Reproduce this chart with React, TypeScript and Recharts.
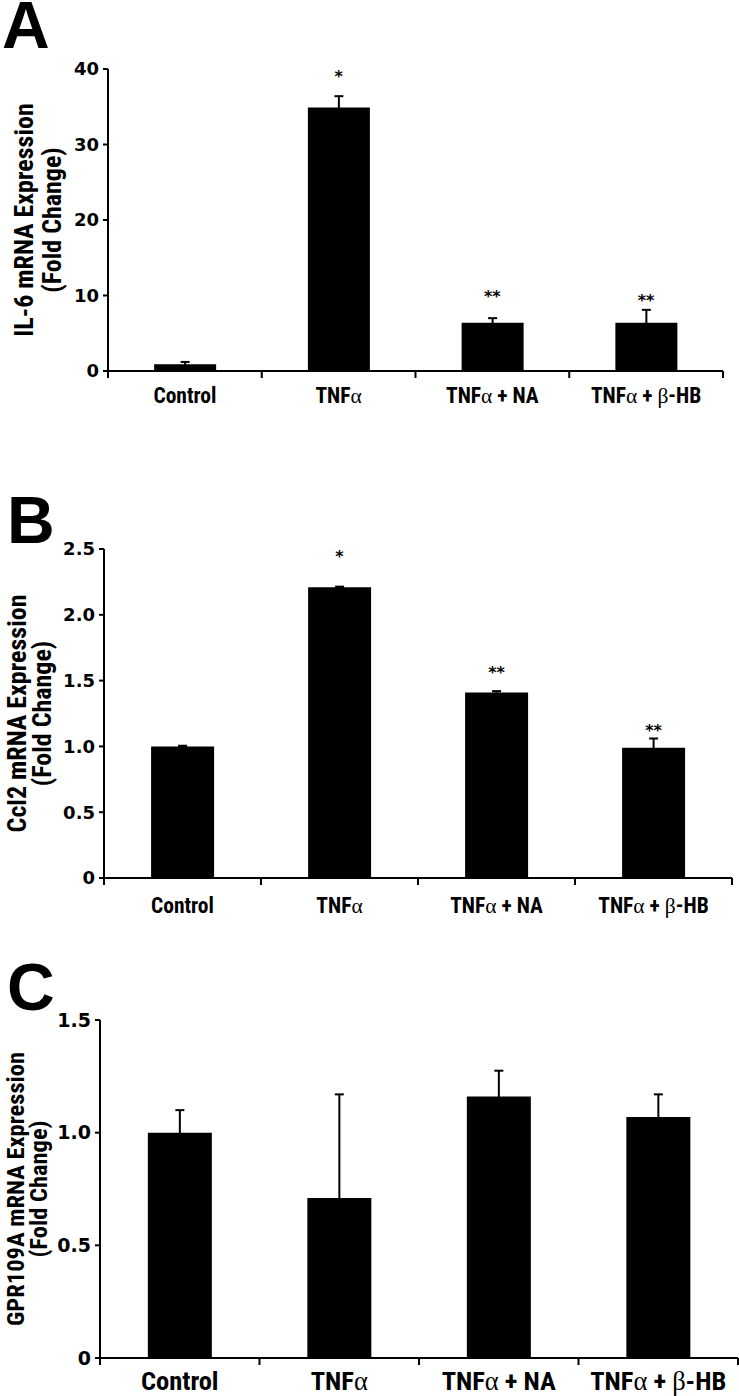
import { Bar, ComposedChart, ErrorBar, LabelList, Line, XAxis, YAxis } from "recharts"

const categories = ["Control", "TNFα", "TNFα + NA", "TNFα + β-HB"]

// A: IL-6
const il6Values = [0.9, 34.9, 6.4, 6.4]
const il6Errors = [0.3, 1.5, 0.6, 1.7]
const il6Stars = ["", "*", "**", "**"]
const il6StarLevels = [null, 39.3, 10.2, 9.7]
const il6Ticks = [0, 10, 20, 30, 40]
const il6TickLabels = ["0", "10", "20", "30", "40"]

// B: Ccl2
const ccl2Values = [1.0, 2.21, 1.41, 0.99]
const ccl2Errors = [0.005, 0.004, 0.01, 0.07]
const ccl2Stars = ["", "*", "**", "**"]
const ccl2StarLevels = [null, 2.46, 1.58, 1.14]
const ccl2Ticks = [0, 0.5, 1, 1.5, 2, 2.5]
const ccl2TickLabels = ["0", "0.5", "1.0", "1.5", "2.0", "2.5"]

// C: GPR109A
const gprValues = [1.0, 0.71, 1.16, 1.07]
const gprErrors = [0.1, 0.46, 0.115, 0.1]
const gprStars = ["", "", "", ""]
const gprStarLevels = [null, null, null, null]
const gprTicks = [0, 0.5, 1, 1.5]
const gprTickLabels = ["0", "0.5", "1.0", "1.5"]

const narrow = "'Liberation Sans Narrow', 'Roboto Condensed', Roboto, sans-serif"
const tickFont = "'DejaVu Sans', sans-serif"

function buildRows(values: number[], errors: number[], stars: string[], levels: (number | null)[]) {
  return categories.map((name, i) => ({
    name,
    value: values[i],
    err: errors[i],
    star: stars[i],
    starAt: levels[i],
  }))
}

// label under each bar, plus the small tick marks on the category boundaries
function CategoryTick(props: any) {
  const { x, y, payload, index, offset, size, band } = props
  const parts = String(payload.value).split(/([αβ])/)
  const half = band / 2
  return (
    <g>
      <line x1={x - half} x2={x - half} y1={y} y2={y + 7} stroke="#000" strokeWidth={2} />
      {index === categories.length - 1 && (
        <line x1={x + half} x2={x + half} y1={y} y2={y + 7} stroke="#000" strokeWidth={2} />
      )}
      <text x={x} y={y + offset} textAnchor="middle" fontFamily={narrow} fontWeight={700} fontSize={size} fill="#000">
        {parts.map((p, i) =>
          p === "α" || p === "β" ? (
            <tspan key={i} fontFamily="'Liberation Serif', serif" fontWeight={400}>
              {p}
            </tspan>
          ) : (
            <tspan key={i}>{p}</tspan>
          )
        )}
      </text>
    </g>
  )
}

function StarLabel(props: any) {
  const { x, y, value } = props
  if (!value || y == null) return null
  return (
    <text x={x} y={y + 8} textAnchor="middle" fontFamily={tickFont} fontWeight={700} fontSize={16} fill="#000">
      {value}
    </text>
  )
}

type PanelProps = {
  letter: string
  letterX: number
  letterBase: number
  title: string[]
  titleX: number[]
  titleSize: number
  rows: any[]
  ticks: number[]
  tickLabels: string[]
  top: number
  height: number
  left: number
  right: number
  plotTop: number
  plotBottom: number
  labelOffset: number
  labelSize: number
  tickSize: number
}

function Panel(p: PanelProps) {
  const midY = (p.plotTop + p.plotBottom) / 2
  const maxY = p.ticks[p.ticks.length - 1]
  const band = (p.right - p.left) / categories.length
  return (
    <div style={{ position: "absolute", left: 0, top: p.top, width: 739, height: p.height }}>
      <ComposedChart
        width={739}
        height={p.height}
        data={p.rows}
        margin={{ top: p.plotTop, right: 739 - p.right, bottom: 0, left: 0 }}
        barCategoryGap="30%"
      >
        <YAxis
          width={p.left}
          domain={[0, maxY]}
          ticks={p.ticks}
          interval={0}
          tickFormatter={(v: number) => p.tickLabels[p.ticks.indexOf(v)]}
          axisLine={{ stroke: "#000", strokeWidth: 2 }}
          tickLine={{ stroke: "#000", strokeWidth: 2 }}
          tickSize={5}
          tickMargin={4}
          tick={{ fill: "#000", fontSize: p.tickSize, fontWeight: 700, fontFamily: tickFont }}
        />
        <XAxis
          dataKey="name"
          height={p.height - p.plotBottom}
          interval={0}
          axisLine={{ stroke: "#000", strokeWidth: 2 }}
          tickLine={false}
          tickSize={0}
          tickMargin={0}
          tick={<CategoryTick offset={p.labelOffset} size={p.labelSize} band={band} />}
        />
        <Bar dataKey="value" fill="#000" isAnimationActive={false}>
          <ErrorBar dataKey="err" width={4.5} strokeWidth={2} stroke="#000" direction="y" />
        </Bar>
        <Line
          dataKey="starAt"
          stroke="none"
          dot={false}
          activeDot={false}
          legendType="none"
          isAnimationActive={false}
        >
          <LabelList dataKey="star" content={StarLabel} />
        </Line>
      </ComposedChart>
      <svg
        width={739}
        height={p.height}
        style={{ position: "absolute", left: 0, top: 0, pointerEvents: "none" }}
      >
        <text x={p.letterX} y={p.letterBase} fontFamily="'Liberation Sans', Arial, sans-serif" fontWeight={700} fontSize={66} fill="#000">
          {p.letter}
        </text>
        {p.title.map((line, i) => (
          <text
            key={i}
            x={p.titleX[i]}
            y={midY}
            transform={`rotate(-90 ${p.titleX[i]} ${midY})`}
            textAnchor="middle"
            fontFamily={narrow}
            fontWeight={700}
            fontSize={p.titleSize}
            fill="#000"
          >
            {line}
          </text>
        ))}
      </svg>
    </div>
  )
}

export default function App() {
  return (
    <div style={{ position: "absolute", left: 0, top: 0, width: 739, height: 1396, background: "#fff" }}>
      <Panel
        letter="A"
        letterX={2}
        letterBase={48}
        title={["IL-6 mRNA Expression", "(Fold Change)"]}
        titleX={[33, 61]}
        titleSize={26}
        rows={buildRows(il6Values, il6Errors, il6Stars, il6StarLevels)}
        ticks={il6Ticks}
        tickLabels={il6TickLabels}
        top={0}
        height={420}
        left={108}
        right={723}
        plotTop={69}
        plotBottom={371}
        labelOffset={32}
        labelSize={21.5}
        tickSize={18}
      />
      <Panel
        letter="B"
        letterX={7}
        letterBase={63}
        title={["Ccl2 mRNA Expression", "(Fold Change)"]}
        titleX={[26, 51]}
        titleSize={26}
        rows={buildRows(ccl2Values, ccl2Errors, ccl2Stars, ccl2StarLevels)}
        ticks={ccl2Ticks}
        tickLabels={ccl2TickLabels}
        top={480}
        height={460}
        left={104}
        right={732}
        plotTop={69}
        plotBottom={398}
        labelOffset={35}
        labelSize={21.5}
        tickSize={18}
      />
      <Panel
        letter="C"
        letterX={7}
        letterBase={70}
        title={["GPR109A mRNA Expression", "(Fold Change)"]}
        titleX={[24, 47]}
        titleSize={24.5}
        rows={buildRows(gprValues, gprErrors, gprStars, gprStarLevels)}
        ticks={gprTicks}
        tickLabels={gprTickLabels}
        top={940}
        height={456}
        left={100}
        right={738}
        plotTop={80}
        plotBottom={418}
        labelOffset={32}
        labelSize={26.5}
        tickSize={19}
      />
    </div>
  )
}
